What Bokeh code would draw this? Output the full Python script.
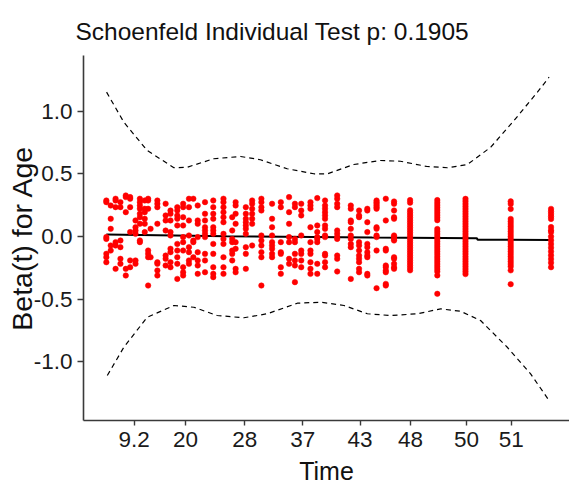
from bokeh.plotting import figure
from bokeh.models import Range1d, FixedTicker, PrintfTickFormatter, ColumnDataSource
from bokeh.embed import file_html
from bokeh.resources import INLINE

title_text = "Schoenfeld Individual Test p: 0.1905"
x_label = "Time"
y_label = "Beta(t) for Age"

# x tick positions on the transformed-time scale and their time labels
tick_pos = [0.110, 0.216, 0.338, 0.457, 0.575, 0.679, 0.794, 0.886]
tick_lab = ["9.2", "20", "28", "37", "43", "48", "50", "51"]
y_ticks = [-1.0, -0.5, 0.0, 0.5, 1.0]

# transformed event time of each group of residuals
col_time = [0.053, 0.062, 0.072, 0.082, 0.093, 0.102, 0.113, 0.122, 0.132, 0.139,
            0.144, 0.158, 0.175, 0.185, 0.199, 0.211, 0.223, 0.232, 0.241, 0.256,
            0.273, 0.294, 0.312, 0.319, 0.340, 0.353, 0.372, 0.394, 0.412, 0.429,
            0.441, 0.454, 0.473, 0.487, 0.503, 0.528, 0.556, 0.573, 0.590, 0.609,
            0.628, 0.645, 0.678, 0.734, 0.792, 0.885, 0.968]

# scaled Schoenfeld residuals, one list per time group
col_resid = [
    [0.287, 0.274, -0.005, -0.019, -0.138, -0.165, -0.205],
    [0.247, 0.141, 0.061, -0.072, -0.112],
    [0.301, 0.287, 0.234, -0.045, -0.072, -0.258],
    [0.274, 0.234, -0.032, -0.085, -0.178, -0.218],
    [0.327, 0.314, 0.194, -0.258, -0.311],
    [0.314, 0.301, 0.234, 0.035, -0.191, -0.245],
    [0.128, 0.074, 0.048, 0.021, -0.191, -0.218],
    [0.301, 0.274, 0.247, 0.221, 0.181, 0.154, 0.101, -0.032, -0.045],
    [0.287, 0.221, 0.194, 0.141, 0.101, 0.035],
    [0.301, 0.287, 0.221, -0.112, -0.138, -0.165, -0.391],
    [0.061, -0.165],
    [0.287, 0.261, 0.234, 0.101, -0.205, -0.218, -0.271, -0.311],
    [0.261, 0.168, 0.128, 0.048, -0.152, -0.178, -0.231],
    [0.207, 0.181, 0.128, 0.035, 0.008, -0.098, -0.125, -0.205, -0.245],
    [0.234, 0.207, 0.168, 0.141, 0.088, -0.059, -0.112, -0.165, -0.218, -0.338],
    [0.261, 0.234, 0.154, 0.088, -0.005, -0.045, -0.112, -0.245, -0.285, -0.311],
    [0.301, 0.234, 0.128, 0.008, -0.085, -0.125, -0.191, -0.218],
    [0.301, -0.032, -0.045, -0.165],
    [0.247, 0.128, 0.101, -0.005, -0.125, -0.191, -0.231, -0.298],
    [0.274, 0.181, 0.128, 0.074, 0.048, 0.021, -0.005, -0.138, -0.191, -0.285],
    [0.287, 0.234, 0.181, 0.141, 0.074, 0.048, 0.021, -0.059, -0.138, -0.245, -0.298, -0.324],
    [0.301, 0.274, 0.234, 0.194, 0.154, 0.114, 0.021, -0.019, -0.059, -0.165, -0.245, -0.298],
    [0.154, 0.048, -0.019, -0.045, -0.112, -0.138, -0.191],
    [0.274, 0.247, 0.181, 0.101, -0.045, -0.098, -0.258, -0.285],
    [0.234, 0.181, 0.141, 0.114, 0.088, 0.061, 0.021, -0.085, -0.138, -0.258],
    [0.287, 0.261, 0.221, 0.181, 0.141, 0.101, -0.072],
    [0.301, 0.274, 0.234, 0.207, 0.008, -0.032, -0.072, -0.125, -0.165, -0.391],
    [0.261, 0.141, 0.074, 0.008, -0.045, -0.072, -0.098, -0.138, -0.165],
    [0.274, 0.234, -0.045, -0.125, -0.138, -0.245, -0.298],
    [0.314, 0.194, 0.101, -0.005, -0.045, -0.178, -0.218],
    [0.261, 0.234, -0.019, -0.045, -0.138, -0.191, -0.231, -0.364],
    [0.261, 0.207, 0.168, 0.008, -0.112, -0.138, -0.191, -0.245],
    [0.274, 0.247, 0.221, 0.074, -0.045, -0.112, -0.138, -0.205, -0.258, -0.298],
    [0.306, 0.088, 0.035, -0.005, -0.019, -0.045, -0.218, -0.298],
    [0.287, 0.247, 0.221, 0.194, 0.168, 0.141, 0.088, 0.061, 0.008, -0.005, -0.138, -0.152, -0.205, -0.245],
    [0.327, 0.301, 0.261, 0.234, 0.048, 0.021, -0.005, -0.019, -0.152, -0.178, -0.279],
    [0.247, 0.221, 0.128, 0.114, 0.061, 0.008, -0.019, -0.059, -0.085, -0.338],
    [0.207, 0.168, 0.154, -0.045, -0.072, -0.112, -0.152, -0.178, -0.205, -0.258, -0.285],
    [0.221, 0.207, 0.114, 0.035, -0.059, -0.085, -0.125, -0.152, -0.165, -0.298, -0.311],
    [0.287, 0.274, 0.261, 0.247, 0.234, 0.221, 0.074, 0.061, 0.008, -0.005, -0.112, -0.412],
    [0.301, 0.128, -0.098, -0.112, -0.231, -0.245, -0.271, -0.285, -0.378, -0.391],
    [0.279, 0.261, 0.207, 0.154, 0.141, 0.008, -0.005, -0.019, -0.032, -0.165, -0.178, -0.218, -0.245, -0.258],
    [0.29, 0.27, 0.21, 0.19, 0.17, 0.15, 0.13, 0.11, 0.09, 0.07, 0.05, 0.03, 0.01, -0.01,
     -0.03, -0.05, -0.07, -0.09, -0.11, -0.13, -0.15, -0.17, -0.19, -0.21, -0.23, -0.25, -0.27],
    [0.29, 0.27, 0.25, 0.23, 0.21, 0.19, 0.17, 0.15, 0.13, 0.06, 0.04, 0.02, 0.0, -0.02,
     -0.04, -0.06, -0.08, -0.10, -0.12, -0.14, -0.16, -0.18, -0.20, -0.22, -0.24, -0.26,
     -0.28, -0.31, -0.457],
    [0.30, 0.28, 0.26, 0.24, 0.22, 0.20, 0.18, 0.16, 0.14, 0.12, 0.10, 0.08, 0.06, 0.04,
     0.02, 0.0, -0.02, -0.04, -0.06, -0.08, -0.10, -0.12, -0.14, -0.16, -0.18, -0.20,
     -0.22, -0.24, -0.26, -0.28, -0.30],
    [0.28, 0.26, 0.22, 0.14, 0.12, 0.10, 0.08, 0.06, 0.04, 0.02, 0.0, -0.02, -0.04, -0.06,
     -0.08, -0.10, -0.12, -0.14, -0.16, -0.18, -0.20, -0.22, -0.24, -0.27, -0.38],
    [0.22, 0.20, 0.18, 0.16, 0.14, 0.075, 0.05, 0.035, 0.0, -0.03, -0.06, -0.09, -0.12,
     -0.15, -0.18, -0.21, -0.245],
]

# spline fit of beta(t)
fit_x = [0.053, 0.300, 0.600, 0.815, 0.817, 0.968]
fit_y = [0.016, 0.002, -0.008, -0.013, -0.025, -0.027]

# confidence band (upper and lower)
up_x = [0.0535, 0.089, 0.137, 0.192, 0.220, 0.274, 0.329, 0.370, 0.425, 0.480, 0.508,
        0.562, 0.617, 0.658, 0.713, 0.755, 0.796, 0.844, 0.892, 0.940, 0.964]
up_y = [1.151, 0.911, 0.686, 0.548, 0.553, 0.620, 0.638, 0.612, 0.540, 0.500, 0.500,
        0.574, 0.606, 0.600, 0.558, 0.548, 0.574, 0.712, 0.925, 1.151, 1.270]
lo_x = [0.055, 0.089, 0.137, 0.192, 0.233, 0.281, 0.336, 0.384, 0.446, 0.494, 0.542,
        0.590, 0.638, 0.693, 0.741, 0.782, 0.823, 0.878, 0.926, 0.964]
lo_y = [-1.108, -0.883, -0.644, -0.550, -0.564, -0.630, -0.648, -0.616, -0.532, -0.524,
        -0.550, -0.616, -0.630, -0.616, -0.577, -0.596, -0.670, -0.883, -1.095, -1.308]

pts_x, pts_y = [], []
for t, rs in zip(col_time, col_resid):
    for r in rs:
        pts_x.append(t)
        pts_y.append(r)
src = ColumnDataSource(data=dict(x=pts_x, y=pts_y))

FONT = "Liberation Sans"

p = figure(width=569, height=491, output_backend="svg", toolbar_location=None,
           x_range=Range1d(0.006, 1.006), y_range=Range1d(-1.467, 1.443),
           min_border_left=83, min_border_right=0, min_border_top=55,
           min_border_bottom=71, background_fill_color="white",
           border_fill_color="white", outline_line_color=None)

p.title.text = title_text
p.title.align = "left"
p.title.offset = -8
p.title.standoff = 21
p.title.text_font = FONT
p.title.text_font_size = "24.5px"
p.title.text_font_style = "normal"
p.title.text_color = "#111111"

p.xgrid.visible = False
p.ygrid.visible = False

p.line(fit_x, fit_y, line_color="black", line_width=2)
p.line(up_x, up_y, line_color="black", line_width=1.2, line_dash="5 4")
p.line(lo_x, lo_y, line_color="black", line_width=1.2, line_dash="5 4")
p.scatter("x", "y", source=src, size=5.5, fill_color="#ff0000", line_color="#ff0000",
          line_width=0.5)

xa = p.xaxis[0]
xa.ticker = FixedTicker(ticks=tick_pos)
xa.major_label_overrides = {t: l for t, l in zip(tick_pos, tick_lab)}
xa.axis_label = x_label
ya = p.yaxis[0]
ya.ticker = FixedTicker(ticks=y_ticks)
ya.formatter = PrintfTickFormatter(format="%.1f")
ya.axis_label = y_label

for ax in (xa, ya):
    ax.axis_line_color = "#3a3a3a"
    ax.axis_line_width = 1.6
    ax.major_tick_line_color = "#3a3a3a"
    ax.major_tick_line_width = 1.4
    ax.major_tick_in = 0
    ax.minor_tick_line_color = None
    ax.major_label_text_font = FONT
    ax.major_label_text_font_size = "22.5px"
    ax.major_label_text_color = "#1a1a1a"
    ax.axis_label_text_font = FONT
    ax.axis_label_text_font_style = "normal"
    ax.axis_label_text_color = "#111111"

xa.major_tick_out = 5
xa.major_label_standoff = 6
xa.axis_label_standoff = 7
xa.axis_label_text_font_size = "25px"
ya.major_tick_out = 6
ya.major_label_standoff = 5
ya.axis_label_standoff = -7
ya.axis_label_text_font_size = "28.5px"

open("out.html", "w").write(file_html(p, INLINE))
